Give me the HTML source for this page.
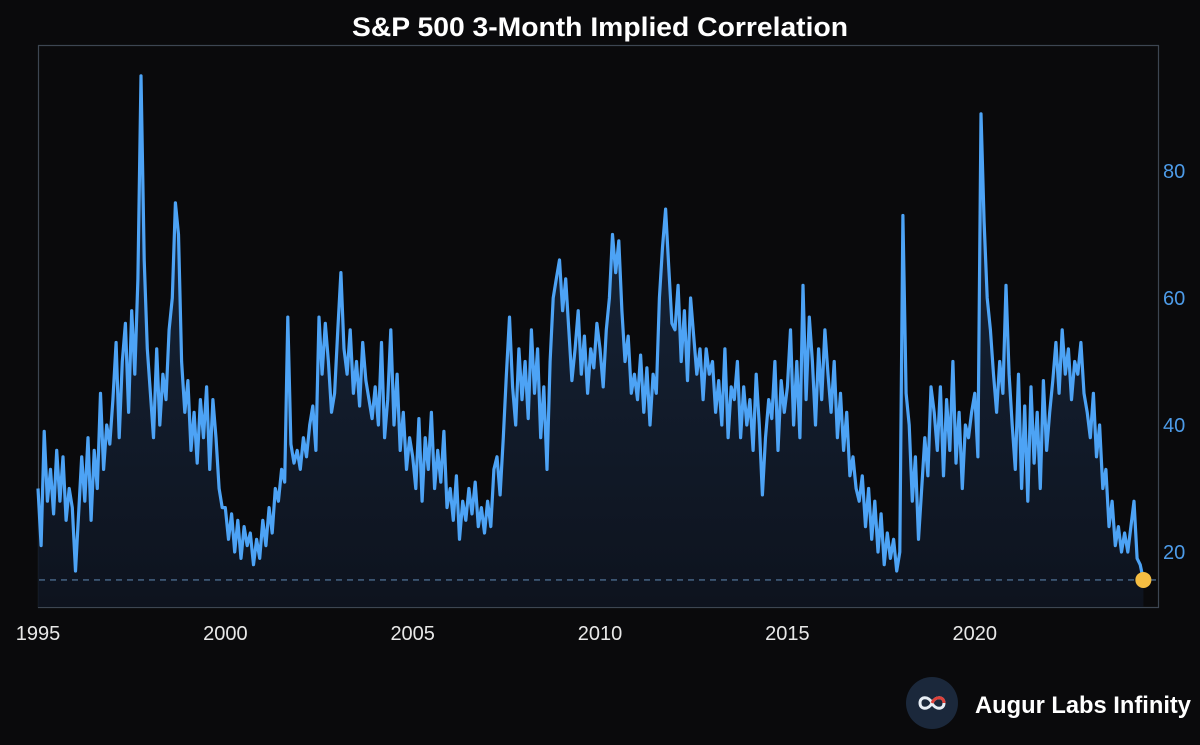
<!DOCTYPE html>
<html><head><meta charset="utf-8"><style>
body{margin:0;background:#0a0a0c;width:1200px;height:745px;overflow:hidden;font-family:"Liberation Sans",sans-serif}
svg{display:block}
</style></head><body>
<svg id="chart" width="1200" height="745">
<defs>
<linearGradient id="fillg" x1="0" y1="0" x2="0" y2="1">
<stop offset="0" stop-color="#1a2c44" stop-opacity="0.9"/>
<stop offset="1" stop-color="#0e1420" stop-opacity="0.9"/>
</linearGradient>
</defs>
<text x="600" y="36" text-anchor="middle" fill="#fff" font-size="27" font-weight="bold" textLength="496" lengthAdjust="spacingAndGlyphs">S&amp;P 500 3-Month Implied Correlation</text>
<rect x="38.5" y="45.5" width="1120" height="562" fill="none" stroke="#3d4652" stroke-width="1.2"/>
<g id="area"></g><g id="ticks"></g>
<g>
<circle cx="932" cy="703" r="26" fill="#1b283b"/>
<path d="M920,703 c0,-7 9,-7 12,0 c3,7 12,7 12,0 c0,-7 -9,-7 -12,0 c-3,7 -12,7 -12,0z" fill="none" stroke="#e8eef5" stroke-width="3"/>
<path d="M932,703 c3,-7 12,-7 12,0" fill="none" stroke="#e0413a" stroke-width="3"/>
</g>
<text x="975" y="713" fill="#fff" font-size="24" font-weight="bold" textLength="216" lengthAdjust="spacingAndGlyphs">Augur Labs Infinity</text>
</svg>
<script>
const startYear = 1995;
const values = [
30,21,39,28,33,26,36,28,35,25,30,27,
17,26,35,28,38,25,36,30,45,33,40,37,
44,53,38,50,56,42,58,48,63,95,66,52,
45,38,52,40,48,44,55,60,75,70,50,42,
47,36,42,34,44,38,46,33,44,38,30,27,
27,22,26,20,25,19,24,21,23,18,22,19,
25,21,27,23,30,28,33,31,57,37,34,36,
33,38,35,40,43,36,57,48,56,50,42,45,
55,64,52,48,55,45,50,43,53,47,44,41,
46,40,53,38,44,55,40,48,36,42,33,38,
35,30,41,28,38,33,42,30,36,31,39,27,
30,25,32,22,28,25,30,26,31,24,27,23,
28,24,33,35,29,38,48,57,46,40,52,44,
50,41,55,45,52,38,46,33,50,60,63,66,
58,63,55,47,52,58,48,54,45,52,49,56,
52,46,55,60,70,64,69,58,50,54,45,48,
44,51,42,49,40,48,45,60,68,74,65,56,
55,62,50,58,47,60,54,48,52,44,52,48,
50,42,47,40,52,38,46,44,50,38,46,40,
44,36,48,40,29,38,44,41,50,36,47,42,
46,55,40,50,38,62,44,57,50,40,52,44,
55,48,42,50,38,45,36,42,32,35,30,28,
32,24,30,22,28,20,26,18,23,19,22,17,
20,73,45,40,28,35,22,30,38,32,46,42,
36,46,32,44,36,50,34,42,30,40,38,42,
45,35,89,72,60,55,48,42,50,45,62,48,
40,33,48,30,43,28,46,34,42,30,47,36,
42,47,53,45,55,48,52,44,50,48,53,45,
42,38,45,35,40,30,33,24,28,21,24,20,
23,20,24,28,19,18,15.6];
const yTicks = [20,40,60,80];
const xTicks = [1995,2000,2005,2010,2015,2020];

const x = t => 38 + (t - 1995) * 37.47;
const y = v => 552 - (v - 20) * 6.35;
const NS = "http://www.w3.org/2000/svg";
const area = document.getElementById('area');
const ticks = document.getElementById('ticks');
const pts = values.map((v,i)=>[x(startYear + i/12), y(v)]);
const lineD = pts.map((p,i)=>(i?'L':'M')+p[0].toFixed(1)+','+p[1].toFixed(1)).join('');
const fill = document.createElementNS(NS,'path');
fill.setAttribute('d', lineD + 'L'+pts[pts.length-1][0].toFixed(1)+',607L'+pts[0][0].toFixed(1)+',607Z');
fill.setAttribute('fill','url(#fillg)');


area.appendChild(fill);
const last = values[values.length-1];
const dash = document.createElementNS(NS,'line');
dash.setAttribute('x1',39);dash.setAttribute('x2',1158);
dash.setAttribute('y1',y(last));dash.setAttribute('y2',y(last));
dash.setAttribute('stroke','#4a6a8c');dash.setAttribute('stroke-dasharray','6,5');dash.setAttribute('stroke-width','1.3');


area.appendChild(dash);
const line = document.createElementNS(NS,'path');
line.setAttribute('d', lineD);
line.setAttribute('fill','none');line.setAttribute('stroke','#4da3f5');line.setAttribute('stroke-width','3.2');line.setAttribute('stroke-linejoin','round');


area.appendChild(line);
const dot = document.createElementNS(NS,'circle');
dot.setAttribute('cx',pts[pts.length-1][0]);dot.setAttribute('cy',y(last));dot.setAttribute('r',8);dot.setAttribute('fill','#f5bd42');


area.appendChild(dot);
yTicks.forEach(v=>{
  const t = document.createElementNS(NS,'text');
  t.setAttribute('x',1163);t.setAttribute('y',y(v)+7);t.setAttribute('fill','#4d9be8');t.setAttribute('font-size','20');
  t.textContent = v;
  
  
  ticks.appendChild(t);
});
xTicks.forEach(v=>{
  const t = document.createElementNS(NS,'text');
  t.setAttribute('x',x(v));t.setAttribute('y',640);t.setAttribute('fill','#e8e8e8');t.setAttribute('font-size','20');t.setAttribute('text-anchor','middle');
  t.textContent = v;
  
  
  ticks.appendChild(t);
});
</script>
</body></html>
